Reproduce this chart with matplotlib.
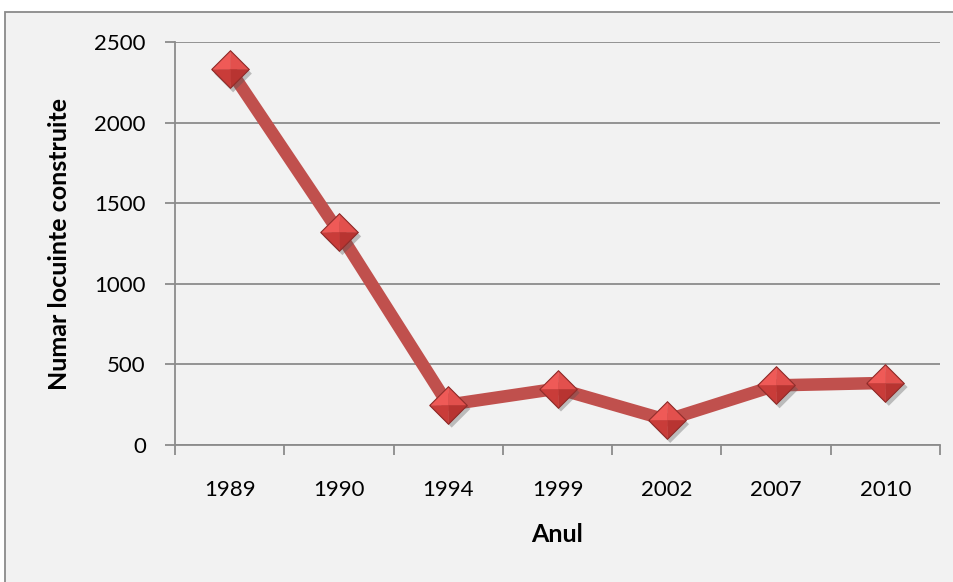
import matplotlib
matplotlib.use("Agg")
import matplotlib.pyplot as plt
from matplotlib.patches import Rectangle
from matplotlib.path import Path
import matplotlib.patheffects as pe
import numpy as np

years = ["1989", "1990", "1994", "1999", "2002", "2007", "2010"]
values = [2330, 1320, 250, 350, 155, 370, 385]
y_ticks = [0, 500, 1000, 1500, 2000, 2500]

plt.rcParams['font.family'] = ['Lato', 'DejaVu Sans']

W, H = 954, 582
fig = plt.figure(figsize=(W / 100, H / 100), dpi=100)
fig.patch.set_facecolor("white")

bg = "#f2f2f2"
frame = Rectangle((5 / W, -0.1), 1.2, (H - 12) / H + 0.1, transform=fig.transFigure,
                  facecolor=bg, edgecolor="#8a8a8a", linewidth=1.3, zorder=-10)
fig.patches.append(frame)

ax = fig.add_axes([175 / W, 1 - 445 / H, (940 - 175) / W, (445 - 42) / H])
ax.set_facecolor(bg)
ax.patch.set_alpha(0)

x = np.arange(len(years))
line_col = "#c0504d"
ax.plot(x, values, color=line_col, linewidth=9, solid_joinstyle="miter", zorder=3,
        solid_capstyle="butt")

# pyramid-like diamond markers made from four triangular faces
c = (0, 0)
top, right, bottom, left = (0, 1), (1, 0), (0, -1), (-1, 0)
faces = [
    ([c, left, top, c], "#ef5a57"),
    ([c, top, right, c], "#e2504d"),
    ([c, right, bottom, c], "#b83431"),
    ([c, bottom, left, c], "#c93c39"),
]
ms = 27
# shadow
ax.plot(x, values, linestyle="none", marker=Path([left, top, right, bottom, left]),
        markersize=ms, markerfacecolor="#d8d8d8", markeredgecolor="none", zorder=3.5,
        path_effects=[pe.SimplePatchShadow(offset=(2.5, -3), alpha=0.35, shadow_rgbFace="#555555")])
for verts, col in faces:
    ax.plot(x, values, linestyle="none", marker=Path(verts), markersize=ms,
            markerfacecolor=col, markeredgecolor=col, markeredgewidth=0.3, zorder=4)
ax.plot(x, values, linestyle="none", marker=Path([left, top, right, bottom, left]),
        markersize=ms, markerfacecolor="none", markeredgecolor="#8e2d2b",
        markeredgewidth=0.8, zorder=5)

ax.set_xlim(-0.5, len(years) - 0.5)
ax.set_ylim(0, 2500)
ax.set_yticks(y_ticks)
ax.set_yticklabels([str(v) for v in y_ticks])
ax.set_xticks(x)
ax.set_xticklabels(years)
ax.set_xticks(np.arange(len(years) + 1) - 0.5, minor=True)

grid_col = "#8c8c8c"
ax.yaxis.grid(True, color=grid_col, linewidth=1.3, zorder=1)
ax.set_axisbelow(True)
for s in ["top", "right"]:
    ax.spines[s].set_visible(False)
for s in ["left", "bottom"]:
    ax.spines[s].set_color(grid_col)
    ax.spines[s].set_linewidth(1.3)

ax.tick_params(axis="x", which="major", length=0, pad=25, labelsize=16, colors="black")
ax.tick_params(axis="x", which="minor", length=7, width=1.3, color=grid_col, direction="out")
ax.tick_params(axis="y", which="major", length=7, width=1.3, color=grid_col, pad=14,
               labelsize=16, labelcolor="black")

ax.set_xlabel("Anul", fontsize=18, fontweight="bold", labelpad=17)
ax.set_ylabel("Numar locuinte construite", fontsize=18, fontweight="bold", labelpad=17)

fig.savefig("out.png", dpi=100, facecolor="white")
